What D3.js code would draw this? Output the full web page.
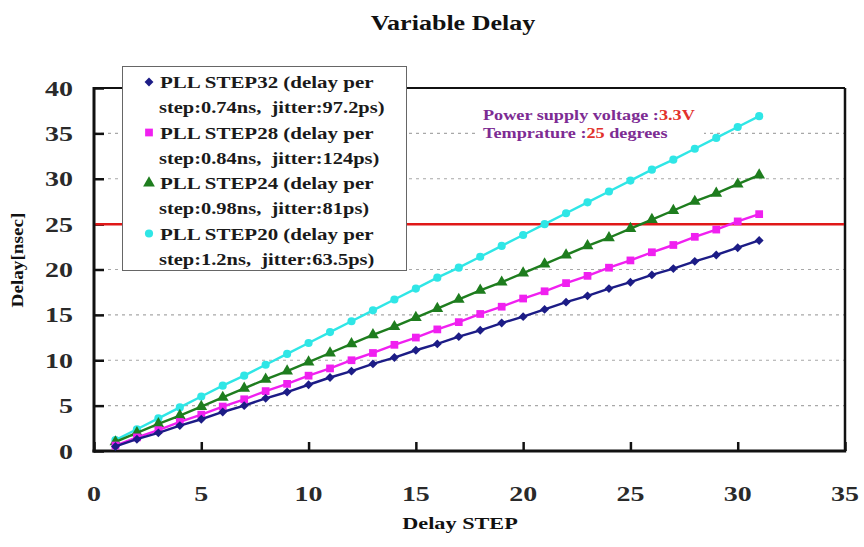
<!DOCTYPE html>
<html>
<head>
<meta charset="utf-8">
<script src="https://cdn.jsdelivr.net/npm/d3@7"></script>
<style>
  html, body { margin: 0; padding: 0; background: #fff; }
  svg { display: block; }
  text { white-space: pre; }
</style>
</head>
<body>
<svg id="chart" width="864" height="547"></svg>
<script>
// Delay per step for four PLL settings (ns), steps 1..31
const steps = d3.range(1, 32);
const step32 = [0.5,1.3,2.0,2.8,3.5,4.3,5.0,5.8,6.5,7.3,8.1,8.8,9.6,10.3,11.1,11.8,12.6,13.3,14.1,14.8,15.6,16.4,17.1,17.9,18.6,19.4,20.1,20.9,21.6,22.4,23.2];
const step28 = [0.6,1.5,2.3,3.2,4.0,4.9,5.7,6.6,7.4,8.3,9.1,10.0,10.8,11.7,12.5,13.4,14.2,15.1,15.9,16.8,17.6,18.5,19.3,20.2,21.0,21.9,22.7,23.6,24.4,25.3,26.1];
const step24 = [1.0,2.0,3.0,3.9,4.9,5.9,6.9,7.9,8.8,9.8,10.8,11.8,12.8,13.7,14.7,15.7,16.7,17.7,18.6,19.6,20.6,21.6,22.6,23.5,24.5,25.5,26.5,27.5,28.4,29.4,30.4];
const step20 = [1.2,2.4,3.6,4.8,6.0,7.2,8.3,9.5,10.7,11.9,13.1,14.3,15.5,16.7,17.9,19.1,20.2,21.4,22.6,23.8,25.0,26.2,27.4,28.6,29.8,31.0,32.1,33.3,34.5,35.7,36.9];

const seriesNames = ["PLL STEP32", "PLL STEP28", "PLL STEP24", "PLL STEP20"];
const seriesNotes = ["step:0.74ns,  jitter:97.2ps)", "step:0.84ns,  jitter:124ps)", "step:0.98ns,  jitter:81ps)", "step:1.2ns,  jitter:63.5ps)"];
const seriesColors = ["#1c1c86", "#f020f0", "#1e7d1e", "#2fe6e6"];
const seriesValues = [step32, step28, step24, step20];
const xTicks = [0, 5, 10, 15, 20, 25, 30, 35];
const yTicks = [0, 5, 10, 15, 20, 25, 30, 35, 40];
const limitDelay = 25;

const svg = d3.select("#chart");
const SERIF = "'Liberation Serif', 'Times New Roman', serif";
const SX = 1.27; // horizontal widening of the lettering

const x = d3.scaleLinear().domain([0, 35]).range([94, 845]);
const y = d3.scaleLinear().domain([0, 40]).range([451, 88]);

// helper: widened text anchored at (px, py)
function wideText(g, px, py, str, opts) {
  const t = g.append("text")
    .attr("transform", `translate(${px},${py}) scale(${opts.sx || SX},1)`)
    .attr("font-family", SERIF)
    .attr("font-size", opts.size)
    .attr("font-weight", opts.weight || "bold")
    .attr("text-anchor", opts.anchor || "start")
    .attr("fill", opts.fill || "#111");
  if (str != null) t.text(str);
  return t;
}

// title
wideText(svg, 453, 30, "Variable Delay", {size: 20.5, anchor: "middle"});

// horizontal dashed grid
svg.append("g")
  .selectAll("line")
  .data(yTicks.filter(v => v > 0 && v < 40))
  .join("line")
  .attr("x1", x(0)).attr("x2", x(35))
  .attr("y1", d => y(d)).attr("y2", d => y(d))
  .attr("stroke", "#a8a8a8")
  .attr("stroke-width", 1.2)
  .attr("stroke-dasharray", "3,4");

// axes with inward ticks
const yAxis = d3.axisLeft(y).tickValues(yTicks).tickSize(-10).tickFormat("");
const xAxis = d3.axisBottom(x).tickValues(xTicks).tickSize(-9).tickFormat("");
const gy = svg.append("g").attr("transform", `translate(${x(0)},0)`).call(yAxis);
const gx = svg.append("g").attr("transform", `translate(0,${y(0)})`).call(xAxis);
[gy, gx].forEach(g => {
  g.select(".domain").remove();
  g.selectAll(".tick line").attr("stroke", "#111").attr("stroke-width", 2.5);
});

// plot frame
svg.append("line").attr("x1", x(0)).attr("x2", x(35)).attr("y1", y(40)).attr("y2", y(40)).attr("stroke", "#111").attr("stroke-width", 2);
svg.append("line").attr("x1", x(35)).attr("x2", x(35)).attr("y1", y(40)).attr("y2", y(0)).attr("stroke", "#111").attr("stroke-width", 2.5);
svg.append("line").attr("x1", x(0)).attr("x2", x(0)).attr("y1", y(40) - 1).attr("y2", y(0) + 1.5).attr("stroke", "#111").attr("stroke-width", 3);
svg.append("line").attr("x1", x(0) - 1.5).attr("x2", x(35) + 1.2).attr("y1", y(0)).attr("y2", y(0)).attr("stroke", "#111").attr("stroke-width", 3);

// tick labels
svg.append("g").selectAll("text").data(yTicks).join("text")
  .each(function(d) {
    d3.select(this)
      .attr("transform", `translate(73,${y(d) + 7.5}) scale(1.3,1)`)
      .attr("font-family", SERIF).attr("font-size", 21.5)
      .attr("font-weight", "bold").attr("fill", "#2a2a2a")
      .attr("text-anchor", "end").text(d);
  });
svg.append("g").selectAll("text").data(xTicks).join("text")
  .each(function(d) {
    d3.select(this)
      .attr("transform", `translate(${x(d)},${500.5}) scale(1.3,1)`)
      .attr("font-family", SERIF).attr("font-size", 21.5)
      .attr("font-weight", "bold").attr("fill", "#2a2a2a")
      .attr("text-anchor", "middle").text(d);
  });

// axis titles
wideText(svg, 460, 529, "Delay STEP", {size: 17.5, anchor: "middle"});
svg.append("text")
  .attr("transform", "translate(23,260) rotate(-90)")
  .attr("font-family", SERIF).attr("font-size", 17).attr("font-weight", "bold")
  .attr("fill", "#111").attr("text-anchor", "middle")
  .attr("textLength", 95).attr("lengthAdjust", "spacingAndGlyphs")
  .text("Delay[nsec]");

// operating conditions note (white backing hides the grid behind it)
svg.append("rect").attr("x", 476).attr("y", 104).attr("width", 228).attr("height", 38).attr("fill", "#fff");
const note1 = wideText(svg, 483, 120, null, {size: 14, sx: 1.3, fill: "#7d2c93"});
note1.append("tspan").text("Power supply voltage :");
note1.append("tspan").attr("fill", "#e2322c").text("3.3V");
const note2 = wideText(svg, 483, 138, null, {size: 14, sx: 1.3, fill: "#7d2c93"});
note2.append("tspan").text("Temprature :");
note2.append("tspan").attr("fill", "#e2322c").text("25");
note2.append("tspan").text(" degrees");

// 25 ns limit
svg.append("line")
  .attr("x1", x(0) + 1.5).attr("x2", x(35) - 1)
  .attr("y1", y(limitDelay)).attr("y2", y(limitDelay))
  .attr("stroke", "#e01818").attr("stroke-width", 2.5);

// series
const symbols = [d3.symbolDiamond2, d3.symbolSquare, d3.symbolTriangle, d3.symbolCircle];
const symbolSizes = [50, 60, 60, 52];
const line = d3.line().x((d, i) => x(steps[i])).y(d => y(d));

const order = [3, 2, 1, 0];
order.forEach(k => {
  const g = svg.append("g");
  g.append("path")
    .attr("d", line(seriesValues[k]))
    .attr("fill", "none")
    .attr("stroke", seriesColors[k])
    .attr("stroke-width", 2.4);
  g.selectAll("path.m").data(seriesValues[k]).join("path")
    .attr("class", "m")
    .attr("transform", (d, i) => `translate(${x(steps[i])},${y(d)})`)
    .attr("d", d3.symbol().type(symbols[k]).size(symbolSizes[k]))
    .attr("fill", seriesColors[k]);
});

// legend
const lg = svg.append("g");
lg.append("rect").attr("x", 122.5).attr("y", 66.5).attr("width", 284).attr("height", 204)
  .attr("fill", "#fff").attr("stroke", "#666").attr("stroke-width", 1);
seriesNames.forEach((name, k) => {
  const cy = 82 + k * 50.5;
  lg.append("path")
    .attr("transform", `translate(149,${cy})`)
    .attr("d", d3.symbol().type(symbols[k]).size(symbolSizes[k]))
    .attr("fill", seriesColors[k]);
  wideText(lg, 160, cy + 6, name + " (delay per", {size: 16.5, fill: "#1a1a1a"});
  wideText(lg, 159, cy + 31, seriesNotes[k], {size: 16.5, sx: 1.24, fill: "#1a1a1a"});
});
</script>
</body>
</html>
